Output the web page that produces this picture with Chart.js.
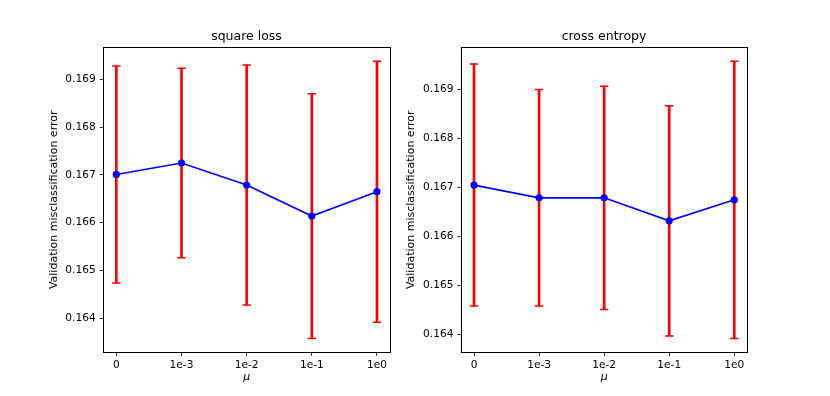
<!DOCTYPE html>
<html lang="en">
  <head>
    <meta charset="UTF-8" />
    <title>Validation misclassification error vs mu</title>
    <script src="https://cdn.jsdelivr.net/npm/chart.js"></script>
    <style>
      body { margin: 0; background: #fff; width: 830px; height: 396px; position: relative; overflow: hidden; }
      canvas { position: absolute; top: 0; }
    </style>
  </head>

  <body>
    <canvas id="leftChart" width="493" height="396" style="left: 0px"></canvas>
    <canvas id="rightChart" width="418" height="396" style="left: 395px"></canvas>

    <script>
      // values
      const muLabels = ["0", "1e-3", "1e-2", "1e-1", "1e0"];

      const squareLoss = [0.16701, 0.16725, 0.16679, 0.16614, 0.16665];
      const squareLossErr = [0.00227, 0.00198, 0.00251, 0.00256, 0.00273];

      const crossEntropy = [0.16705, 0.16679, 0.16679, 0.16632, 0.16675];
      const crossEntropyErr = [0.00247, 0.00221, 0.00228, 0.00235, 0.00283];

      const yTickValues = [0.164, 0.165, 0.166, 0.167, 0.168, 0.169];

      Chart.defaults.font.family = "'DejaVu Sans', sans-serif";
      Chart.defaults.font.size = 10.6;
      Chart.defaults.color = "#000";

      function makeChart(id, title, values, errors, box) {
        const lows = values.map((v, i) => v - errors[i]);
        const highs = values.map((v, i) => v + errors[i]);

        // matplotlib style autoscale: 5% margin around the data
        const lo = Math.min(...lows);
        const hi = Math.max(...highs);
        const pad = (hi - lo) * 0.05;

        const ctx = document.getElementById(id).getContext("2d");
        return new Chart(ctx, {
          type: "line",
          data: {
            datasets: [
              {
                // the blue line with markers, drawn on top
                data: values.map((v, i) => ({ x: i, y: v })),
                borderColor: "#0000ff",
                borderWidth: 1.6,
                pointRadius: 3.6,
                pointBackgroundColor: "#0000ff",
                pointBorderWidth: 0,
                tension: 0,
                order: 0,
              },
              {
                // caps of the error bars
                type: "line",
                data: lows.map((v, i) => ({ x: i, y: v })).concat(highs.map((v, i) => ({ x: i, y: v }))),
                showLine: false,
                pointStyle: "line",
                pointRadius: 4.2,
                pointBorderColor: "#ff0000",
                pointBorderWidth: 1.5,
                order: 1,
              },
              {
                // vertical error bars
                type: "bar",
                data: values.map((v, i) => ({ x: i, y: [lows[i], highs[i]] })),
                backgroundColor: "#ff0000",
                borderWidth: 0,
                barThickness: 2,
                order: 2,
              },
            ],
          },
          options: {
            responsive: false,
            animation: false,
            events: [],
            layout: { padding: 0 },
            plugins: {
              legend: { display: false },
              tooltip: { enabled: false },
              title: {
                display: true,
                text: title,
                font: { size: 12.5, weight: "normal" },
                color: "#000",
                padding: { top: 29.3, bottom: 3 },
              },
            },
            scales: {
              x: {
                type: "linear",
                position: "bottom",
                min: -0.2,
                max: 4.2,
                offset: false,
                afterBuildTicks: (s) => {
                  s.ticks = muLabels.map((_, i) => ({ value: i }));
                },
                afterFit: (s) => {
                  s.height = 396 - 352.3;
                },
                ticks: {
                  padding: 3.3,
                  maxRotation: 0,
                  callback: (v) => muLabels[v],
                },
                grid: { display: true, offset: false, drawOnChartArea: false, drawTicks: true, tickLength: 3.6, color: "#000", lineWidth: 0.8 },
                border: { display: true, color: "#000", width: 1 },
                title: {
                  display: true,
                  text: "μ",
                  font: { size: 11, style: "italic" },
                  padding: { top: 0, bottom: 12.2 },
                },
              },
              y: {
                type: "linear",
                position: "left",
                min: lo - pad,
                max: hi + pad,
                bounds: "data",
                afterBuildTicks: (s) => {
                  s.ticks = yTickValues.map((v) => ({ value: v }));
                },
                afterFit: (s) => {
                  s.width = box.yWidth;
                },
                ticks: {
                  padding: 4,
                  callback: (v) => v.toFixed(3),
                },
                grid: { display: true, offset: false, drawOnChartArea: false, drawTicks: true, tickLength: 3.6, color: "#000", lineWidth: 0.8 },
                border: { display: true, color: "#000", width: 1 },
                title: {
                  display: true,
                  text: "Validation misclassification error",
                  font: { size: 11 },
                  padding: { top: box.yTitlePad, bottom: 0 },
                },
              },
              // empty axes only used as the top and right frame lines
              x2: {
                type: "linear",
                position: "top",
                ticks: { display: false },
                grid: { display: false },
                border: { display: true, color: "#000", width: 1 },
                afterFit: (s) => {
                  s.height = 0;
                },
              },
              y2: {
                type: "linear",
                position: "right",
                ticks: { display: false },
                grid: { display: false },
                border: { display: true, color: "#000", width: 1 },
                afterFit: (s) => {
                  s.width = box.y2Width;
                },
              },
            },
          },
        });
      }

      makeChart("leftChart", "square loss", squareLoss, squareLossErr, {
        yWidth: 103.3,
        y2Width: 103,
        yTitlePad: 48,
      });

      makeChart("rightChart", "cross entropy", crossEntropy, crossEntropyErr, {
        yWidth: 66,
        y2Width: 65.7,
        yTitlePad: 10,
      });
    </script>
  </body>
</html>
